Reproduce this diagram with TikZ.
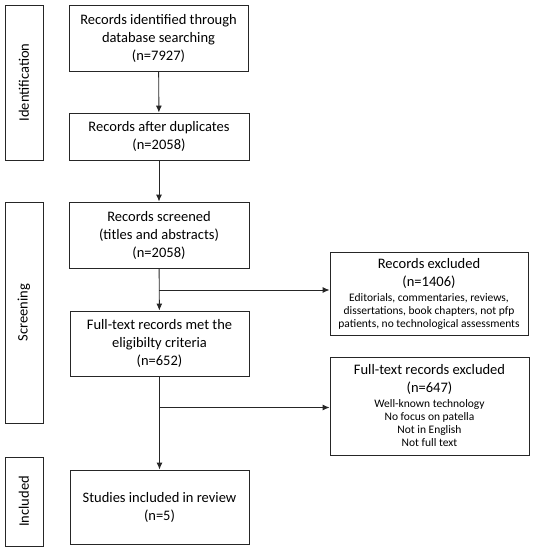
\documentclass[tikz,border=0pt]{standalone}
\usepackage{fontspec}
\setmainfont{Carlito}
\usetikzlibrary{arrows.meta}
\newcommand{\smalltxt}{\fontsize{11.5}{13}\selectfont}
\begin{document}
\begin{tikzpicture}[x=1pt,y=-1pt,
  box/.style={draw=black!85,line width=0.9pt,align=center,inner sep=0pt,font=\fontsize{14.5}{18}\selectfont},
  side/.style={draw=black!85,line width=0.9pt,inner sep=0pt},
  sidelabel/.style={rotate=90,font=\fontsize{14.5}{16}\selectfont},
  arr/.style={draw=black!85,line width=0.9pt,-{Latex[length=7pt,width=6pt]}}]
\useasboundingbox (0,0) rectangle (533,550);
\node[box,minimum width=179pt,minimum height=66pt] (b1) at (158.5,38) {Records identified through\\database searching\\(n=7927)};
\node[box,minimum width=180pt,minimum height=47pt] (b2) at (159,136.5) {Records after duplicates\\(n=2058)};
\node[box,minimum width=180pt,minimum height=66pt] (b3) at (159,235) {Records screened\\(titles and abstracts)\\(n=2058)};
\node[box,minimum width=179pt,minimum height=65pt] (b4) at (159.5,343.5) {Full-text records met the\\eligibilty criteria\\(n=652)};
\node[box,minimum width=179pt,minimum height=74pt] (b5) at (159.5,507) {Studies included in review\\(n=5)};
\node[box,minimum width=198pt,minimum height=83pt] (e1) at (429,293.5) {Records excluded\\(n=1406)\\[-3pt]{\smalltxt Editorials, commentaries, reviews,}\\[-5pt]{\smalltxt dissertations, book chapters, not pfp}\\[-5pt]{\smalltxt patients, no technological assessments}};
\node[box,minimum width=199pt,minimum height=98pt] (e2) at (429.5,406) {Full-text records excluded\\(n=647)\\[-3pt]{\smalltxt Well-known technology}\\[-5pt]{\smalltxt No focus on patella}\\[-5pt]{\smalltxt Not in English}\\[-5pt]{\smalltxt Not full text}};
\node[side,minimum width=38pt,minimum height=155pt] (s1) at (24,82.5) {};
\node[sidelabel] (t1) at (s1.center) {Identification};
\node[side,minimum width=38pt,minimum height=221pt] (s2) at (24,312.5) {};
\node[sidelabel] (t2) at (s2.center) {Screening};
\node[side,minimum width=38pt,minimum height=89pt] (s3) at (24,501.5) {};
\node[sidelabel] (t3) at (s3.center) {Included};
\draw[arr] (b1) -- (b2);
\draw[arr] (b2) -- (b3);
\draw[arr] (b3) -- (b4);
\draw[arr] (b4) -- (b5);
\coordinate (j1) at (159,290);
\coordinate (j2) at (159,407.5);
\draw[arr] (j1) -- (j1 -| e1.west);
\draw[arr] (j2) -- (j2 -| e2.west);
\end{tikzpicture}
\end{document}
